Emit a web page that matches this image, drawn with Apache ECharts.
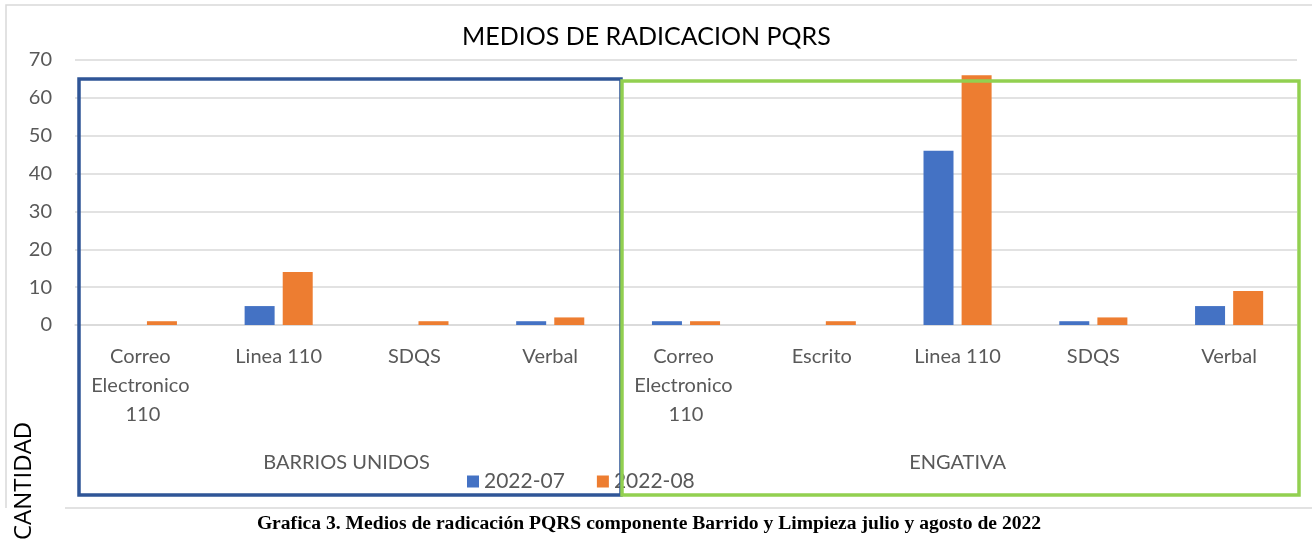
<!DOCTYPE html>
<html>
<head>
<meta charset="utf-8">
<script src="https://cdn.jsdelivr.net/npm/echarts@6/dist/echarts.min.js"></script>
<style>
  html, body {margin: 0; padding: 0; background: #fff;}
  #chart {width: 1312px; height: 543px;}
</style>
</head>
<body>
<div id="chart"></div>
<script>
const categories = ['Correo Electronico 110', 'Linea 110', 'SDQS', 'Verbal',
  'Correo Electronico 110', 'Escrito', 'Linea 110', 'SDQS', 'Verbal'];
const groups = ['BARRIOS UNIDOS', 'ENGATIVA'];
const groupCenters = [1.5, 6];
const jul = [0, 5, 0, 1, 1, 0, 46, 1, 5];
const ago = [1, 14, 1, 2, 1, 1, 66, 2, 9];
const yTicks = [0, 10, 20, 30, 40, 50, 60, 70];

const font = 'Lato, "Open Sans", sans-serif';
const grey = '#595959';
const gridGrey = '#D9D9D9';

const chart = echarts.init(document.getElementById('chart'));
chart.setOption({
  animation: false,
  textStyle: {fontFamily: font},
  title: {
    text: 'MEDIOS DE RADICACION PQRS',
    left: 440,
    top: 20,
    padding: [4, 22],
    backgroundColor: '#fff',
    textStyle: {fontSize: 25, fontWeight: 'normal', color: '#000', fontFamily: font}
  },
  legend: {
    left: 462,
    top: 466,
    itemWidth: 12,
    itemHeight: 12,
    itemGap: 32,
    icon: 'rect',
    textStyle: {fontSize: 21, color: grey, fontFamily: font}
  },
  grid: {left: 75, right: 15, top: 60, bottom: 218, containLabel: false},
  xAxis: [
    {
      type: 'category',
      data: categories,
      axisLine: {lineStyle: {color: gridGrey, width: 1.5}},
      axisTick: {show: false},
      axisLabel: {
        interval: 0,
        color: grey,
        fontSize: 20,
        lineHeight: 29,
        margin: 17,
        width: 110,
        overflow: 'break',
        fontFamily: font
      }
    },
    {
      type: 'value',
      position: 'bottom',
      min: -0.5,
      max: categories.length - 0.5,
      interval: 0.5,
      axisLine: {show: false},
      axisTick: {show: false},
      splitLine: {show: false},
      axisLabel: {
        showMinLabel: true,
        showMaxLabel: true,
        margin: 128,
        color: grey,
        fontSize: 20,
        fontFamily: font,
        formatter: v => {
          const i = groupCenters.indexOf(v);
          return i >= 0 ? groups[i] : '';
        }
      }
    }
  ],
  yAxis: {
    type: 'value',
    min: yTicks[0],
    max: yTicks[yTicks.length - 1],
    interval: 10,
    axisLine: {show: false},
    axisTick: {show: false},
    axisLabel: {color: grey, fontSize: 20, margin: 23, fontFamily: font},
    splitLine: {lineStyle: {color: gridGrey, width: 1.5}}
  },
  series: [
    {name: '2022-07', type: 'bar', data: jul, color: '#4472C4'},
    {name: '2022-08', type: 'bar', data: ago, color: '#ED7D31'}
  ].map(s => ({...s, barWidth: 30, barGap: '27%', xAxisIndex: 0})),
  graphic: [
    // outer chart frame
    {type: 'polyline', z: 1, shape: {points: [[6, 508], [6, 5], [1312, 5]]},
      style: {stroke: gridGrey, lineWidth: 1.5, fill: null}},
    {type: 'line', z: 1, shape: {x1: 65, y1: 508, x2: 1312, y2: 508},
      style: {stroke: gridGrey, lineWidth: 1.5}},
    // group frames
    {type: 'rect', z: 50, shape: {x: 79, y: 79, width: 542, height: 416},
      style: {stroke: '#2F5597', lineWidth: 3.5, fill: null}},
    {type: 'rect', z: 50, shape: {x: 622, y: 81, width: 677, height: 414},
      style: {stroke: '#92D050', lineWidth: 3.5, fill: null}},
    {type: 'text', z: 50, rotation: Math.PI / 2, x: 24, y: 540,
      style: {text: 'CANTIDAD', fontSize: 24, fill: '#000', fontFamily: '"Open Sans", sans-serif',
        textAlign: 'left', textVerticalAlign: 'middle', backgroundColor: '#fff'}},
    {type: 'text', z: 50, x: 649, y: 524,
      style: {text: 'Grafica 3. Medios de radicación PQRS componente Barrido y Limpieza julio y agosto de 2022',
        fontSize: 19.6, fontWeight: 'bold', fill: '#000', fontFamily: '"Liberation Serif", serif',
        textAlign: 'center', textVerticalAlign: 'middle'}}
  ]
});
</script>
</body>
</html>
